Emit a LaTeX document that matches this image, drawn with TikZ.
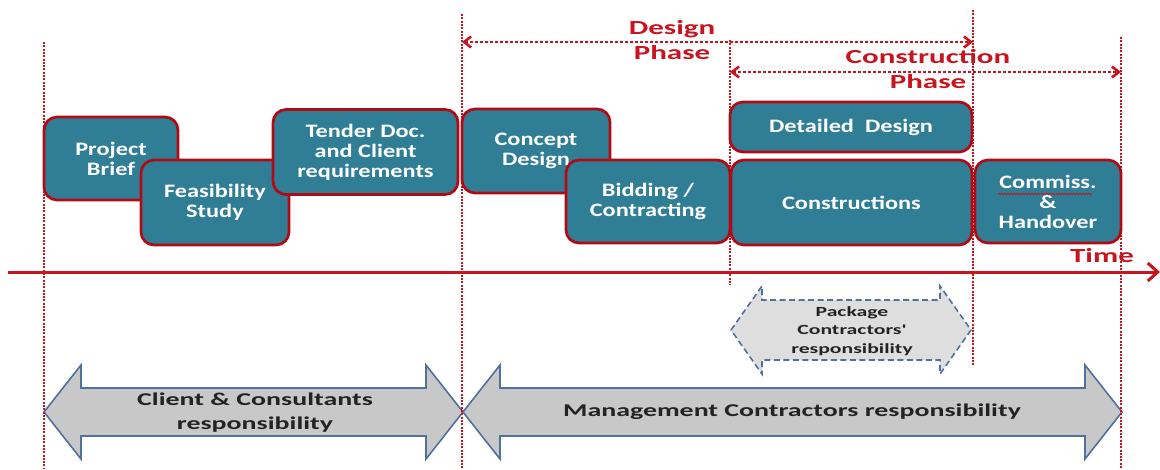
\documentclass[tikz,border=0pt]{standalone}
\usepackage{fontspec}
\setmainfont{Carlito}
\newfontfamily\boxfont{Carlito}[FakeStretch=1.28]
\newfontfamily\widefont{Carlito}[FakeStretch=1.55]
\usetikzlibrary{arrows.meta}
\usetikzlibrary{decorations.pathmorphing}
\definecolor{boxteal}{RGB}{47,126,150}
\definecolor{boxred}{RGB}{178,10,20}
\definecolor{labelred}{RGB}{200,20,30}
\definecolor{arrowgray}{RGB}{200,200,200}
\definecolor{pkggray}{RGB}{222,222,222}
\definecolor{arrowblue}{RGB}{80,112,158}
\definecolor{textdark}{RGB}{35,35,35}

\begin{document}
\begin{tikzpicture}[x=1pt, y=-1pt,
	stage/.style={draw=boxred, line width=2.7pt, fill=boxteal, rounded corners=13pt, text=white, align=center, inner sep=0pt, font=\boxfont\bfseries\fontsize{19}{20}\selectfont},
	phaselabel/.style={text=labelred, align=center, inner sep=0pt, font=\widefont\bfseries\fontsize{20}{25}\selectfont},
	guide/.style={draw=labelred, line width=2.6pt, dash pattern=on 2pt off 1.3pt},
	phasearrow/.style={draw=labelred, line width=2.6pt, dash pattern=on 2.4pt off 2.6pt, {Straight Barb[length=7pt,width=11pt]}-{Straight Barb[length=7pt,width=11pt]}},
	timeaxis/.style={draw=labelred, line width=3pt, -{Straight Barb[length=10pt,width=18pt]}},
	resparrow/.style={draw=arrowblue, line width=1.6pt, fill=arrowgray, line join=miter},
	pkgarrow/.style={draw=arrowblue, line width=1.6pt, fill=pkggray, dash pattern=on 6pt off 3.5pt},
	resptext/.style={text=textdark, align=center, inner sep=0pt, font=\widefont\bfseries\fontsize{18}{24}\selectfont},
	pkgtext/.style={text=textdark, align=center, inner sep=0pt, font=\widefont\bfseries\fontsize{14}{18.5}\selectfont}
	]

	\useasboundingbox (0,0) rectangle (1160,469);

	% responsibility arrows
	\filldraw [resparrow] (44,412) -- (81,365) -- (81,388) -- (426,388) -- (426,365) -- (463,412) -- (426,459) -- (426,436) -- (81,436) -- (81,459) -- cycle;
	\node [resptext] at (255,413) (client){Client \& Consultants \\ responsibility};
	\filldraw [resparrow] (463,412) -- (500,365) -- (500,388) -- (1085,388) -- (1085,365) -- (1122,412) -- (1085,459) -- (1085,436) -- (500,436) -- (500,459) -- cycle;
	\node [resptext] at (792,412) (management){Management Contractors responsibility};
	\filldraw [pkgarrow] (731,330) -- (762,286) -- (762,300) -- (940,300) -- (940,286) -- (971,330) -- (940,374) -- (940,360) -- (762,360) -- (762,374) -- cycle;
	\node [pkgtext] at (852,331) (package){Package \\ Contractors' \\ responsibility};

	% phase labels
	\node [phaselabel] at (672,40.5) (design){Design \\ Phase};
	\node [phaselabel] at (928,69.5) (construction){Construction \\ Phase};
	\node [phaselabel] at (1102,256) (time){Time};

	% time axis
	\coordinate (t0) at (8,272);
	\coordinate (t1) at (1160,272);
	\draw [timeaxis] (t0) -- (t1);

	% guide lines
	\foreach \x/\ytop/\ybot [count=\i] in {44/42/469, 462/14/469, 730/40/285, 973/10/366, 1121/37/469}
	{
		\coordinate (top\i) at (\x,\ytop);
		\coordinate (bot\i) at (\x,\ybot);
		\draw [guide] (top\i) -- (bot\i);
	}

	\coordinate (d0) at (462,42);
	\coordinate (d1) at (973,42);
	\draw [phasearrow] (d0) -- (d1);
	\coordinate (c0) at (730,72);
	\coordinate (c1) at (1121,72);
	\draw [phasearrow] (c0) -- (c1);

	% stages
	\node [stage, minimum width=134pt, minimum height=83pt] at (111,158.5) (brief){Project \\ Brief};
	\node [stage, minimum width=148pt, minimum height=85pt] at (215,202.5) (feasibility){Feasibility \\ Study};
	\node [stage, minimum width=185pt, minimum height=85pt] at (365.5,152) (tender){Tender Doc. \\ and Client \\ requirements};
	\node [stage, minimum width=148pt, minimum height=84pt] at (536,151) (concept){Concept \\ Design};
	\node [stage, minimum width=164pt, minimum height=83pt] at (648,201.5) (bidding){Bidding / \\ Contracting};
	\node [stage, minimum width=242pt, minimum height=50pt] at (851,127) (detailed){Detailed~ Design};
	\node [stage, minimum width=241pt, minimum height=85pt] at (851.5,202.5) (constructions){Constructions};
	\node [stage, minimum width=146pt, minimum height=83pt] at (1048,201.5) (commiss){Commiss. \\ \& \\ Handover};
	% spelling mark
	\draw [labelred, line width=0.7pt, decorate, decoration={snake, amplitude=0.9pt, segment length=3pt}] ([shift={(-50,-7.5)}]commiss.center) -- ([shift={(44,-7.5)}]commiss.center);

\end{tikzpicture}
\end{document}
